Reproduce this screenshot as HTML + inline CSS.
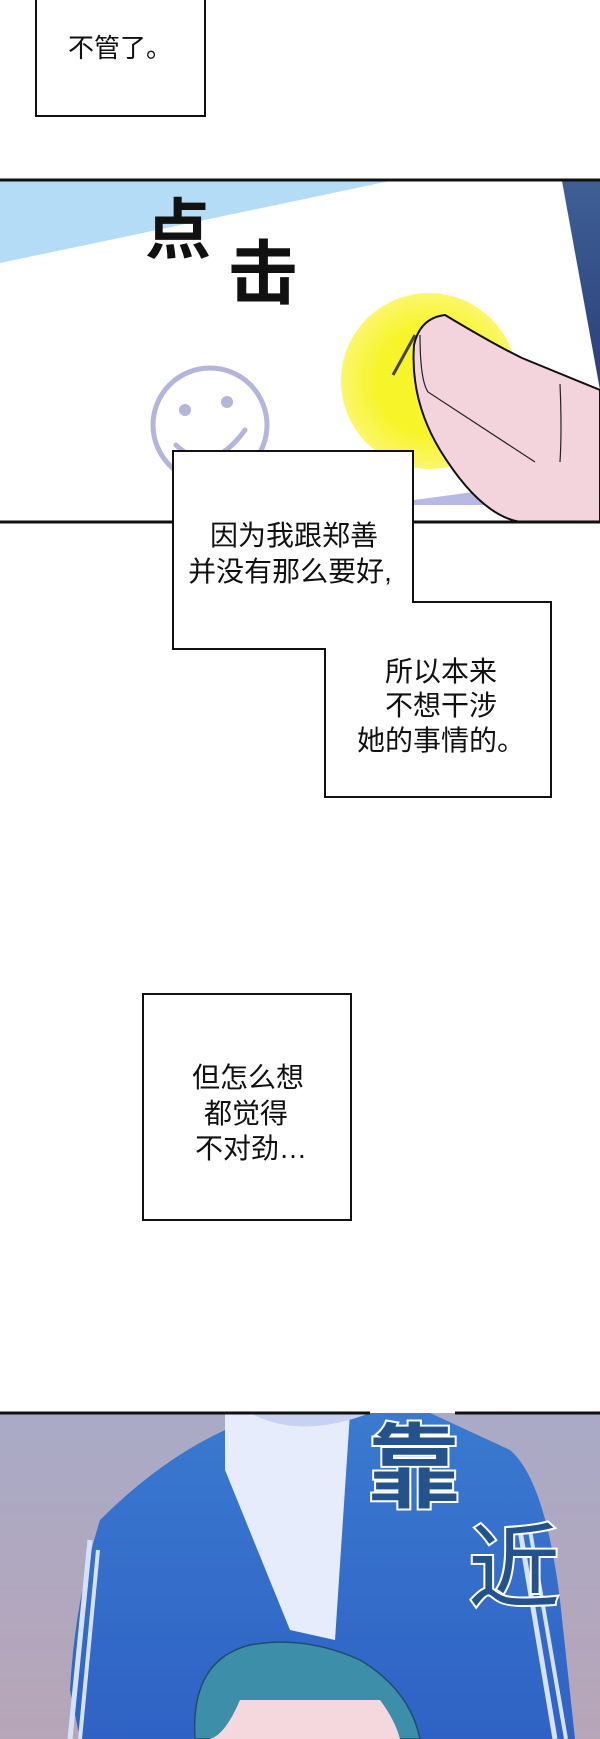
<!DOCTYPE html>
<html><head><meta charset="utf-8"><style>
html,body{margin:0;padding:0;background:#fff;}
body{width:600px;height:1739px;overflow:hidden;position:relative;font-family:"Liberation Sans","Noto Sans CJK SC",sans-serif;}
</style></head><body>
<svg width="600" height="1739" viewBox="0 0 600 1739" xmlns="http://www.w3.org/2000/svg" style="position:absolute;left:0;top:0">
<defs>
<linearGradient id="bg2" x1="0" y1="0" x2="0" y2="1"><stop offset="0" stop-color="#a9aac6"/><stop offset="1" stop-color="#b7a5b8"/></linearGradient>
<linearGradient id="jk" x1="0" y1="0" x2="0" y2="1"><stop offset="0" stop-color="#3a7ad0"/><stop offset="1" stop-color="#2f62c4"/></linearGradient>
<linearGradient id="dk" x1="0" y1="0" x2="0" y2="1"><stop offset="0" stop-color="#3e5f95"/><stop offset="1" stop-color="#2b3f7a"/></linearGradient>
<radialGradient id="yl"><stop offset="0.6" stop-color="#f7f42a"/><stop offset="1" stop-color="#fbf76a"/></radialGradient>
</defs>
<rect x="36" y="-2" width="169" height="118" fill="#fff" stroke="#111" stroke-width="2"/>
<text x="120" y="57" font-size="26" text-anchor="middle" fill="#111" font-family="Liberation Sans,Noto Sans CJK SC,sans-serif">不管了。</text>
<rect x="0" y="179" width="600" height="343" fill="#fff"/>
<polygon points="0,181 390,181 0,263" fill="#b5dcf6"/>
<polygon points="562,181 600,181 600,390" fill="url(#dk)"/>
<polygon points="414,505 500,505 600,490 600,475 414,500" fill="#b6b9e2"/>
<circle cx="429" cy="381" r="88" fill="url(#yl)"/>
<circle cx="210" cy="425" r="57" fill="none" stroke="#b3b6da" stroke-width="5"/>
<circle cx="185" cy="410" r="6" fill="#b3b6da"/><circle cx="227" cy="402" r="6" fill="#b3b6da"/>
<path d="M176 445 Q210 478 245 430" fill="none" stroke="#b3b6da" stroke-width="5" stroke-linecap="round"/>
<path d="M600 390 L522 358 Q495 345 445 315 Q420 318 414 345 Q410 400 440 450 Q480 515 520 522 L600 522 Z" fill="#f4d4dc" stroke="#111" stroke-width="2"/>
<path d="M420 335 Q420 380 428 392 L535 462" fill="none" stroke="#222" stroke-width="1.2"/>
<path d="M560 384 Q562 430 560 462" fill="none" stroke="#222" stroke-width="1.2"/>
<path d="M415 335 L393 375" stroke="#444" stroke-width="3"/>
<text x="145" y="253" font-size="66" font-weight="bold" fill="#111" font-family="Liberation Sans,Noto Sans CJK SC,sans-serif">点</text>
<text x="228" y="298" font-size="70" font-weight="bold" fill="#111" font-family="Liberation Sans,Noto Sans CJK SC,sans-serif">击</text>
<line x1="0" y1="180" x2="600" y2="180" stroke="#111" stroke-width="3"/>
<line x1="0" y1="522" x2="600" y2="522" stroke="#111" stroke-width="3"/>
<polygon points="173,451 413,451 413,602 551,602 551,797 325,797 325,649 173,649" fill="#fff" stroke="#111" stroke-width="2"/>
<g font-size="28" fill="#111" text-anchor="middle" font-family="Liberation Sans,Noto Sans CJK SC,sans-serif">
<text x="294" y="545">因为我跟郑善</text>
<text x="290" y="581">并没有那么要好,</text>
<text x="441" y="681">所以本来</text>
<text x="441" y="715">不想干涉</text>
<text x="441" y="750">她的事情的。</text>
<text x="248" y="1087">但怎么想</text>
<text x="246" y="1123">都觉得</text>
<text x="251" y="1158">不对劲…</text>
</g>
<rect x="143" y="994" width="208" height="226" fill="none" stroke="#111" stroke-width="2"/>
<rect x="0" y="1413" width="600" height="326" fill="url(#bg2)"/>
<path d="M80 1739 L70 1690 Q75 1600 100 1520 Q160 1460 225 1430 L235 1413 L430 1413 L510 1450 Q545 1480 560 1600 L575 1739 Z" fill="url(#jk)"/>
<polygon points="225,1413 350,1413 335,1640 290,1630 225,1470" fill="#e6ecfb"/>
<path d="M250 1413 Q300 1440 370 1413 Z" fill="#c7d2f2"/>
<path d="M90 1540 L70 1739" stroke="#d6e2fa" stroke-width="5"/>
<path d="M98 1550 L80 1739" stroke="#d6e2fa" stroke-width="4"/>
<path d="M520 1530 L555 1739" stroke="#d6e2fa" stroke-width="5"/>
<path d="M530 1530 L566 1739" stroke="#d6e2fa" stroke-width="4"/>
<path d="M195 1739 Q190 1660 250 1645 Q305 1635 360 1660 Q410 1690 420 1739 Z" fill="#3d8ea8" stroke="#1f4d70" stroke-width="1.5"/>
<path d="M210 1739 Q225 1735 240 1700 L380 1700 Q395 1720 400 1739 Z" fill="#f5d8de"/>
<text x="368" y="1500" font-size="92" font-weight="bold" fill="#24528a" stroke="#fff" stroke-width="4" paint-order="stroke" font-family="Liberation Sans,Noto Sans CJK SC,sans-serif">靠</text>
<text x="468" y="1600" font-size="92" fill="#24528a" stroke="#fff" stroke-width="4" paint-order="stroke" font-family="Liberation Sans,Noto Sans CJK SC,sans-serif">近</text>
<line x1="0" y1="1413" x2="370" y2="1413" stroke="#111" stroke-width="3"/>
<line x1="455" y1="1413" x2="600" y2="1413" stroke="#111" stroke-width="3"/>
</svg>
</body></html>
